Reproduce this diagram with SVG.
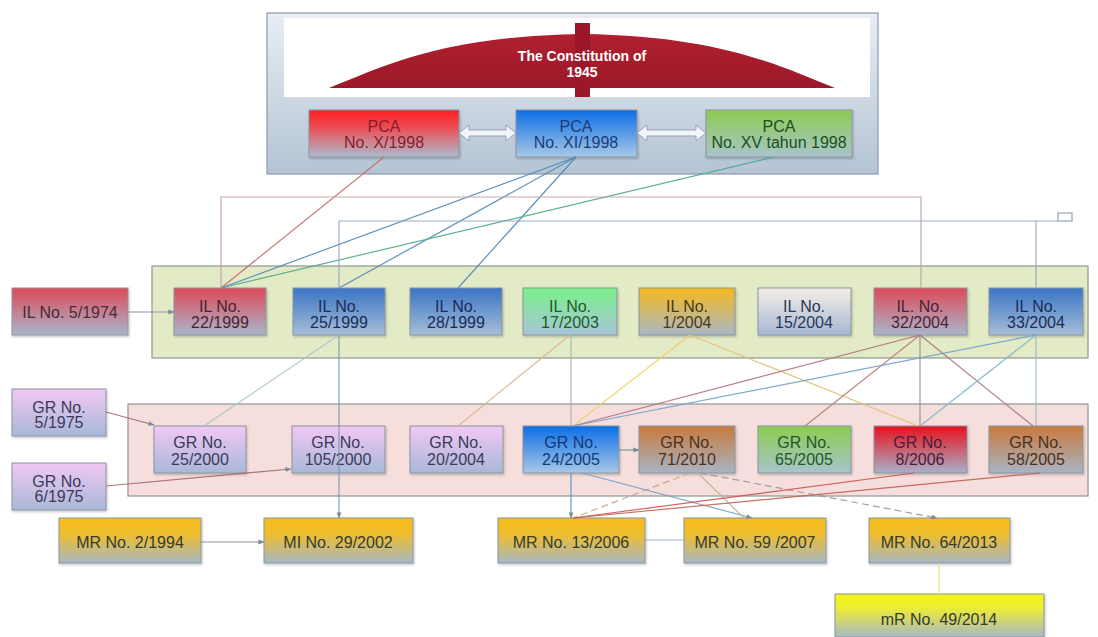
<svg xmlns="http://www.w3.org/2000/svg" width="1098" height="637" viewBox="0 0 1098 637">
  <style>
    .box { stroke: #8a949e; stroke-width: 1; filter: url(#shadow); }
    .t { font-family: "Liberation Sans", Arial, sans-serif; font-size: 16px; text-anchor: middle; fill: #3a3a4a; }
    .ln { fill: none; stroke-width: 1.2; stroke-opacity: 0.9; }
    .dash { stroke-dasharray: 7 4; }
    .panel { stroke: #8e9690; stroke-width: 1.2; }
  </style>
  <defs>
    <filter id="shadow" x="-10%" y="-10%" width="125%" height="130%">
      <feDropShadow dx="1" dy="1.5" stdDeviation="1" flood-color="#000" flood-opacity="0.22"/>
    </filter>
    <linearGradient id="g-panel" x1="0" y1="0" x2="0" y2="1">
      <stop offset="0" stop-color="#e8eef4"/><stop offset="1" stop-color="#b4c4d4"/>
    </linearGradient>
    <linearGradient id="g-red" x1="0" y1="0" x2="0" y2="1">
      <stop offset="0" stop-color="#ff1e22"/><stop offset="0.35" stop-color="#ee4a52"/><stop offset="1" stop-color="#acbccd"/>
    </linearGradient>
    <linearGradient id="g-rose" x1="0" y1="0" x2="0" y2="1">
      <stop offset="0" stop-color="#dc4a58"/><stop offset="1" stop-color="#a9b6cc"/>
    </linearGradient>
    <linearGradient id="g-steel" x1="0" y1="0" x2="0" y2="1">
      <stop offset="0" stop-color="#3a74c4"/><stop offset="1" stop-color="#a6bed8"/>
    </linearGradient>
    <linearGradient id="g-azure" x1="0" y1="0" x2="0" y2="1">
      <stop offset="0" stop-color="#0c6ee6"/><stop offset="1" stop-color="#a8c8e6"/>
    </linearGradient>
    <linearGradient id="g-lime" x1="0" y1="0" x2="0" y2="1">
      <stop offset="0" stop-color="#8ccc50"/><stop offset="1" stop-color="#a8c4cc"/>
    </linearGradient>
    <linearGradient id="g-mint" x1="0" y1="0" x2="0" y2="1">
      <stop offset="0" stop-color="#7af08a"/><stop offset="1" stop-color="#a8c4d8"/>
    </linearGradient>
    <linearGradient id="g-amber" x1="0" y1="0" x2="0" y2="1">
      <stop offset="0" stop-color="#f6b81c"/><stop offset="1" stop-color="#a8b8c8"/>
    </linearGradient>
    <linearGradient id="g-pale" x1="0" y1="0" x2="0" y2="1">
      <stop offset="0" stop-color="#f6eee6"/><stop offset="1" stop-color="#a6b8d4"/>
    </linearGradient>
    <linearGradient id="g-pink" x1="0" y1="0" x2="0" y2="1">
      <stop offset="0" stop-color="#f2c8f4"/><stop offset="1" stop-color="#a8b8d8"/>
    </linearGradient>
    <linearGradient id="g-brown" x1="0" y1="0" x2="0" y2="1">
      <stop offset="0" stop-color="#c87a3c"/><stop offset="1" stop-color="#a8b4c4"/>
    </linearGradient>
    <linearGradient id="g-crimson" x1="0" y1="0" x2="0" y2="1">
      <stop offset="0" stop-color="#e8101c"/><stop offset="1" stop-color="#a8b0c8"/>
    </linearGradient>
    <linearGradient id="g-gold" x1="0" y1="0" x2="0" y2="1">
      <stop offset="0" stop-color="#f6be1c"/><stop offset="0.35" stop-color="#efbe2c"/><stop offset="1" stop-color="#a6b8c4"/>
    </linearGradient>
    <linearGradient id="g-yellow" x1="0" y1="0" x2="0" y2="1">
      <stop offset="0" stop-color="#f4f41c"/><stop offset="0.3" stop-color="#eeee30"/><stop offset="1" stop-color="#a8b8c4"/>
    </linearGradient>
    <linearGradient id="g-dome" x1="0" y1="0" x2="0" y2="1">
      <stop offset="0" stop-color="#b02030"/><stop offset="1" stop-color="#9c1828"/>
    </linearGradient>
    <marker id="arr" viewBox="0 0 8 8" refX="7.5" refY="4" markerWidth="6" markerHeight="6" orient="auto" markerUnits="userSpaceOnUse">
      <path d="M0,0.8 L8,4 L0,7.2 Z" fill="#7d8a96"/>
    </marker>
  </defs>

  <rect width="1098" height="637" fill="#ffffff"/>

  <!-- constitution panel -->
  <g id="constitution-panel">
    <rect x="267" y="13" width="611" height="161" fill="url(#g-panel)" stroke="#8a9aaa" stroke-width="1.2"/>
    <rect x="284" y="18" width="586" height="79" fill="#ffffff"/>
  </g>
  <g id="constitution-1945">
    <path d="M329,88 C380,68 440,36 582,34 C724,36 784,68 835,88 Z" fill="url(#g-dome)"/>
    <rect x="575" y="23" width="15" height="74" fill="#9c1828"/>
    <text class="t" x="582" y="61" style="fill:#ffffff;font-weight:bold;font-size:14px">The Constitution of</text>
    <text class="t" x="582" y="77" style="fill:#ffffff;font-weight:bold;font-size:14px">1945</text>
  </g>

  <!-- row containers -->
  <rect id="il-panel" class="panel" x="152" y="266" width="936" height="92" fill="#e3eac6"/>
  <rect id="gr-panel" class="panel" x="128" y="404" width="960" height="92" fill="#f5dedc"/>

  <!-- PCA decrees -->
  <g id="pca-x">
    <rect class="box" x="309" y="110" width="150" height="47" fill="url(#g-red)"/>
    <text class="t" x="384" y="132" style="fill:#8a1c2c">PCA</text>
    <text class="t" x="384" y="148" style="fill:#8a1c2c">No. X/1998</text>
  </g>
  <g id="pca-xi">
    <rect class="box" x="516" y="110" width="121" height="47" fill="url(#g-azure)"/>
    <text class="t" x="576" y="132" style="fill:#1b3c7a">PCA</text>
    <text class="t" x="576" y="148" style="fill:#1b3c7a">No. XI/1998</text>
  </g>
  <g id="pca-xv">
    <rect class="box" x="706" y="110" width="146" height="47" fill="url(#g-lime)"/>
    <text class="t" x="779" y="132" style="fill:#1c4e20">PCA</text>
    <text class="t" x="779" y="148" style="fill:#1c4e20">No. XV tahun 1998</text>
  </g>

  <!-- laws -->
  <g id="il-5-1974">
    <rect class="box" x="12" y="288" width="116" height="47" fill="url(#g-rose)"/>
    <text class="t" x="70" y="318" style="fill:#4a2a38">IL No. 5/1974</text>
  </g>
  <g id="il-22-1999">
    <rect class="box" x="174" y="288" width="92" height="47" fill="url(#g-rose)"/>
    <text class="t" x="220" y="312" style="fill:#4a2230">IL No.</text>
    <text class="t" x="220" y="328" style="fill:#4a2230">22/1999</text>
  </g>
  <g id="il-25-1999">
    <rect class="box" x="293" y="288" width="92" height="47" fill="url(#g-steel)"/>
    <text class="t" x="339" y="312" style="fill:#1a2c58">IL No.</text>
    <text class="t" x="339" y="328" style="fill:#1a2c58">25/1999</text>
  </g>
  <g id="il-28-1999">
    <rect class="box" x="410" y="288" width="92" height="47" fill="url(#g-steel)"/>
    <text class="t" x="456" y="312" style="fill:#1a2c58">IL No.</text>
    <text class="t" x="456" y="328" style="fill:#1a2c58">28/1999</text>
  </g>
  <g id="il-17-2003">
    <rect class="box" x="523" y="288" width="94" height="47" fill="url(#g-mint)"/>
    <text class="t" x="570" y="312" style="fill:#1e5a2a">IL No.</text>
    <text class="t" x="570" y="328" style="fill:#1e5a2a">17/2003</text>
  </g>
  <g id="il-1-2004">
    <rect class="box" x="639" y="288" width="96" height="47" fill="url(#g-amber)"/>
    <text class="t" x="687" y="312" style="fill:#4a3a14">IL No.</text>
    <text class="t" x="687" y="328" style="fill:#4a3a14">1/2004</text>
  </g>
  <g id="il-15-2004">
    <rect class="box" x="758" y="288" width="93" height="47" fill="url(#g-pale)"/>
    <text class="t" x="804" y="312" style="fill:#2a3858">IL No.</text>
    <text class="t" x="804" y="328" style="fill:#2a3858">15/2004</text>
  </g>
  <g id="il-32-2004">
    <rect class="box" x="874" y="288" width="93" height="47" fill="url(#g-rose)"/>
    <text class="t" x="920" y="312" style="fill:#4a2236">IL. No.</text>
    <text class="t" x="920" y="328" style="fill:#4a2236">32/2004</text>
  </g>
  <g id="il-33-2004">
    <rect class="box" x="989" y="288" width="94" height="47" fill="url(#g-steel)"/>
    <text class="t" x="1036" y="312" style="fill:#1a2c58">IL No.</text>
    <text class="t" x="1036" y="328" style="fill:#1a2c58">33/2004</text>
  </g>

  <!-- government regulations -->
  <g id="gr-5-1975">
    <rect class="box" x="12" y="389" width="94" height="47" fill="url(#g-pink)"/>
    <text class="t" x="59" y="413" style="fill:#3a3a5a">GR No.</text>
    <text class="t" x="59" y="428" style="fill:#3a3a5a">5/1975</text>
  </g>
  <g id="gr-6-1975">
    <rect class="box" x="12" y="463" width="94" height="47" fill="url(#g-pink)"/>
    <text class="t" x="59" y="487" style="fill:#3a3a5a">GR No.</text>
    <text class="t" x="59" y="502" style="fill:#3a3a5a">6/1975</text>
  </g>
  <g id="gr-25-2000">
    <rect class="box" x="154" y="426" width="92" height="47" fill="url(#g-pink)"/>
    <text class="t" x="200" y="448" style="fill:#3a3a5a">GR No.</text>
    <text class="t" x="200" y="465" style="fill:#3a3a5a">25/2000</text>
  </g>
  <g id="gr-105-2000">
    <rect class="box" x="292" y="426" width="93" height="47" fill="url(#g-pink)"/>
    <text class="t" x="338" y="448" style="fill:#3a3a5a">GR No.</text>
    <text class="t" x="338" y="465" style="fill:#3a3a5a">105/2000</text>
  </g>
  <g id="gr-20-2004">
    <rect class="box" x="410" y="426" width="93" height="47" fill="url(#g-pink)"/>
    <text class="t" x="456" y="448" style="fill:#3a3a5a">GR No.</text>
    <text class="t" x="456" y="465" style="fill:#3a3a5a">20/2004</text>
  </g>
  <g id="gr-24-2005">
    <rect class="box" x="523" y="426" width="96" height="47" fill="url(#g-azure)"/>
    <text class="t" x="571" y="448" style="fill:#103a78">GR No.</text>
    <text class="t" x="571" y="465" style="fill:#103a78">24/2005</text>
  </g>
  <g id="gr-71-2010">
    <rect class="box" x="639" y="426" width="96" height="47" fill="url(#g-brown)"/>
    <text class="t" x="687" y="448" style="fill:#4a3020">GR No.</text>
    <text class="t" x="687" y="465" style="fill:#4a3020">71/2010</text>
  </g>
  <g id="gr-65-2005">
    <rect class="box" x="758" y="426" width="93" height="47" fill="url(#g-lime)"/>
    <text class="t" x="804" y="448" style="fill:#1e5a2a">GR No.</text>
    <text class="t" x="804" y="465" style="fill:#1e5a2a">65/2005</text>
  </g>
  <g id="gr-8-2006">
    <rect class="box" x="874" y="426" width="93" height="47" fill="url(#g-crimson)"/>
    <text class="t" x="920" y="448" style="fill:#4a1c3a">GR No.</text>
    <text class="t" x="920" y="465" style="fill:#4a1c3a">8/2006</text>
  </g>
  <g id="gr-58-2005">
    <rect class="box" x="989" y="426" width="94" height="47" fill="url(#g-brown)"/>
    <text class="t" x="1036" y="448" style="fill:#4a3020">GR No.</text>
    <text class="t" x="1036" y="465" style="fill:#4a3020">58/2005</text>
  </g>

  <!-- ministerial regulations -->
  <g id="mr-2-1994">
    <rect class="box" x="59" y="518" width="142" height="45" fill="url(#g-gold)"/>
    <text class="t" x="130" y="548" style="fill:#3a3a2a">MR No. 2/1994</text>
  </g>
  <g id="mi-29-2002">
    <rect class="box" x="264" y="518" width="149" height="45" fill="url(#g-gold)"/>
    <text class="t" x="338" y="548" style="fill:#3a3a2a">MI No. 29/2002</text>
  </g>
  <g id="mr-13-2006">
    <rect class="box" x="498" y="518" width="147" height="45" fill="url(#g-gold)"/>
    <text class="t" x="571" y="548" style="fill:#3a3a2a">MR No. 13/2006</text>
  </g>
  <g id="mr-59-2007">
    <rect class="box" x="684" y="518" width="142" height="45" fill="url(#g-gold)"/>
    <text class="t" x="755" y="548" style="fill:#3a3a2a">MR No. 59 /2007</text>
  </g>
  <g id="mr-64-2013">
    <rect class="box" x="869" y="518" width="141" height="45" fill="url(#g-gold)"/>
    <text class="t" x="939" y="548" style="fill:#3a3a2a">MR No. 64/2013</text>
  </g>
  <g id="mr-49-2014">
    <rect class="box" x="835" y="594" width="209" height="43" fill="url(#g-yellow)"/>
    <text class="t" x="939" y="625" style="fill:#3a3a2a">mR No. 49/2014</text>
  </g>

  <!-- connectors -->
  <g id="connectors">
    <!-- hollow double arrows between decrees -->
    <path d="M459,133 L469,125 L469,130 L506,130 L506,125 L516,133 L506,141 L506,136 L469,136 L469,141 Z" fill="#f2f5f8" stroke="#98a2ac" stroke-width="1"/>
    <path d="M637,133 L647,125 L647,130 L696,130 L696,125 L706,133 L696,141 L696,136 L647,136 L647,141 Z" fill="#f2f5f8" stroke="#98a2ac" stroke-width="1"/>

    <!-- decrees to laws -->
    <line class="ln" x1="384" y1="157" x2="221" y2="288" stroke="#c46a6a"/>
    <line class="ln" x1="576" y1="157" x2="221" y2="288" stroke="#4e86b4"/>
    <line class="ln" x1="576" y1="157" x2="339" y2="288" stroke="#4e86b4"/>
    <line class="ln" x1="576" y1="157" x2="458" y2="288" stroke="#4e86b4"/>
    <line class="ln" x1="774" y1="157" x2="221" y2="288" stroke="#4aa88a"/>

    <!-- elbow links across the law row -->
    <polyline class="ln" points="221,288 221,197 921,197 921,288" stroke="#c0a0a4"/>
    <polyline class="ln" points="339,288 339,221 1058,221" stroke="#90a6bc"/>
    <line class="ln" x1="1036" y1="221" x2="1036" y2="288" stroke="#90a6bc"/>
    <rect x="1058" y="213" width="14" height="8" fill="none" stroke="#90a6bc" stroke-width="1.2"/>

    <line class="ln" x1="128" y1="312" x2="174" y2="312" stroke="#7d8a96" marker-end="url(#arr)"/>

    <!-- laws to government regulations -->
    <line class="ln" x1="339" y1="335" x2="204" y2="426" stroke="#a8c8c8"/>
    <line class="ln" x1="339" y1="335" x2="339" y2="518" stroke="#7898b0" marker-end="url(#arr)"/>
    <line class="ln" x1="570" y1="335" x2="458" y2="426" stroke="#d8b890"/>
    <line class="ln" x1="571" y1="335" x2="571" y2="426" stroke="#a4b4ac"/>
    <line class="ln" x1="690" y1="335" x2="573" y2="426" stroke="#f0d060"/>
    <line class="ln" x1="690" y1="335" x2="918" y2="426" stroke="#e2c274"/>
    <line class="ln" x1="920" y1="335" x2="573" y2="426" stroke="#b07078"/>
    <line class="ln" x1="920" y1="335" x2="805" y2="426" stroke="#b08070"/>
    <line class="ln" x1="920" y1="335" x2="920" y2="426" stroke="#a08890"/>
    <line class="ln" x1="920" y1="335" x2="1033" y2="426" stroke="#a87880"/>
    <line class="ln" x1="1036" y1="335" x2="573" y2="426" stroke="#70a0d0"/>
    <line class="ln" x1="1036" y1="335" x2="920" y2="426" stroke="#80b8c8"/>
    <line class="ln" x1="1036" y1="335" x2="1036" y2="426" stroke="#98b8c8"/>

    <!-- older regulations into the row -->
    <line class="ln" x1="106" y1="412" x2="154" y2="425" stroke="#a06868" marker-end="url(#arr)"/>
    <line class="ln" x1="106" y1="486" x2="291" y2="469" stroke="#a06868" marker-end="url(#arr)"/>
    <line class="ln" x1="619" y1="450" x2="639" y2="450" stroke="#7d8a96" marker-end="url(#arr)"/>

    <!-- government regulations to ministerial regulations -->
    <line class="ln" x1="571" y1="473" x2="571" y2="518" stroke="#5090c0" marker-end="url(#arr)"/>
    <line class="ln" x1="582" y1="473" x2="752" y2="518" stroke="#70a0c8" marker-end="url(#arr)"/>
    <line class="ln dash" x1="690" y1="473" x2="573" y2="518" stroke="#c4a484"/>
    <line class="ln" x1="698" y1="473" x2="744" y2="518" stroke="#c8b090"/>
    <line class="ln dash" x1="700" y1="473" x2="937" y2="518" stroke="#a09494" marker-end="url(#arr)"/>
    <line class="ln" x1="914" y1="473" x2="573" y2="518" stroke="#d05050"/>
    <line class="ln" x1="1040" y1="473" x2="573" y2="518" stroke="#c06050"/>

    <!-- ministerial links -->
    <line class="ln" x1="201" y1="542" x2="264" y2="542" stroke="#7d8a96" marker-end="url(#arr)"/>
    <line class="ln" x1="645" y1="540" x2="684" y2="540" stroke="#88a8c0"/>
    <line class="ln" x1="939" y1="563" x2="939" y2="594" stroke="#f0e060"/>
  </g>
</svg>
